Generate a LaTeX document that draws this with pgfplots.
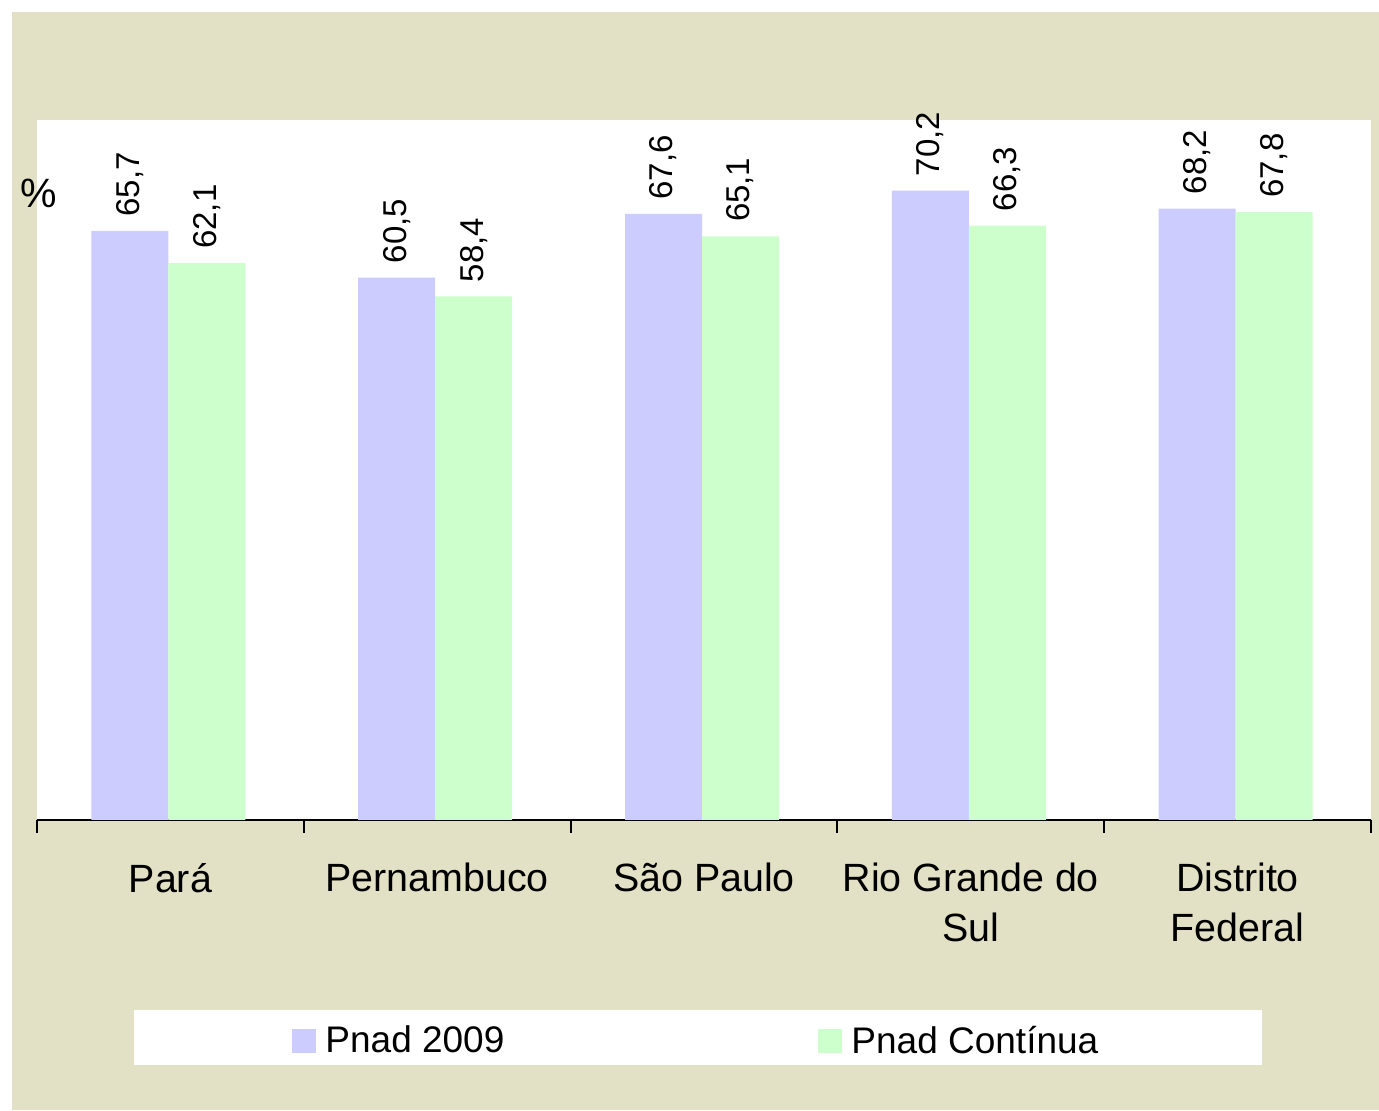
\documentclass[border=0pt]{standalone}
\usepackage{pgfplots}
\pgfplotsset{compat=1.18}
\usepackage{fontspec}
\setmainfont{Liberation Sans}
\definecolor{bgbeige}{RGB}{226,224,197}
\definecolor{barblue}{RGB}{204,204,255}
\definecolor{bargreen}{RGB}{204,255,204}
\begin{document}
\begin{tikzpicture}
\useasboundingbox (0,0) rectangle (689.5pt,555.5pt);
\fill[bgbeige] (6pt,0.5pt) rectangle (689.5pt,549.5pt);
\fill[white] (67pt,23pt) rectangle (631pt,50.5pt);
\begin{axis}[
  at={(18.5pt,145.5pt)}, anchor=south west,
  scale only axis, width=667pt, height=350pt,
  axis background/.style={fill=white},
  axis x line*=bottom, axis y line=none,
  x axis line style={black, line width=1pt},
  xmin=-0.5, xmax=4.5, ymin=0, ymax=78.08,
  ytick=\empty,
  xtick={0,1,2,3,4},
  xticklabels={Pará, Pernambuco, São Paulo, {Rio Grande do\\Sul}, {Distrito\\Federal}},
  major tick length=0pt,
  xticklabel style={align=center, font=\fontsize{19.7}{25}\selectfont, yshift=-18pt, text depth=0pt},
  extra x ticks={-0.5,0.5,1.5,2.5,3.5,4.5},
  extra x tick labels={},
  extra x tick style={major tick length=6.5pt, tick align=outside, tick style={black, line width=1pt}},
  ybar=0pt, bar width=38.5pt,
  nodes near coords,
  /pgf/number format/.cd, use comma, fixed, fixed zerofill, precision=1, assume math mode=true, /pgfplots/.cd,
  every node near coord/.append style={rotate=90, anchor=west, inner sep=0pt, inner xsep=7pt, font=\fontsize{16.5}{18}\selectfont, black},
  legend style={at={(0.1912,-0.3157)}, anchor=west, draw=none, fill=none, inner sep=0pt,
    legend columns=2, font=\fontsize{18.5}{20}\selectfont,
    /tikz/every odd column/.append style={column sep=2.5pt},
    /tikz/every even column/.append style={column sep=155pt}},
  legend image code/.code={\fill[#1] (0pt,-6pt) rectangle (12pt,6pt);},
]
\addplot[fill=barblue, draw=none, xshift=-1pt] coordinates {(0,65.7) (1,60.5) (2,67.6) (3,70.2) (4,68.2)};
\addplot[fill=bargreen, draw=none, xshift=-1pt] coordinates {(0,62.1) (1,58.4) (2,65.1) (3,66.3) (4,67.8)};
\legend{Pnad 2009, Pnad Contínua}
\end{axis}
\node[font=\fontsize{20.5}{22}\selectfont, inner sep=0pt] at (19.25pt,459pt) {\%};
\end{tikzpicture}
\end{document}
